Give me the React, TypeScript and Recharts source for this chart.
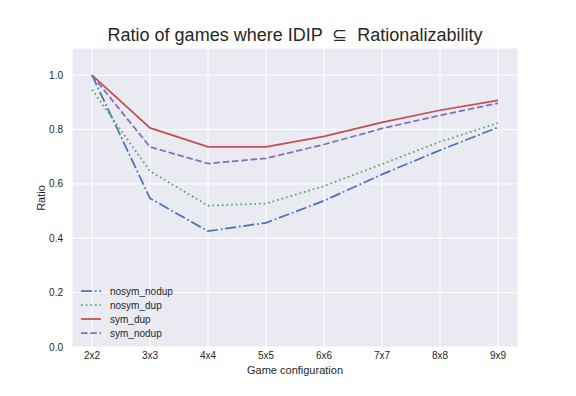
import { LineChart, Line, XAxis, YAxis, CartesianGrid } from 'recharts';

const configs = ['2x2', '3x3', '4x4', '5x5', '6x6', '7x7', '8x8', '9x9'];
const nosymNodup = [1.0, 0.547, 0.426, 0.457, 0.538, 0.635, 0.724, 0.808];
const nosymDup = [0.947, 0.647, 0.52, 0.528, 0.592, 0.673, 0.755, 0.824];
const symDup = [1.0, 0.806, 0.736, 0.736, 0.775, 0.826, 0.871, 0.907];
const symNodup = [1.0, 0.736, 0.675, 0.694, 0.745, 0.804, 0.852, 0.897];
const yTicks = [0, 0.2, 0.4, 0.6, 0.8, 1.0];

const series = [
    { key: 'nosym_nodup', color: '#4C72B0', dash: '11 2.8 1.75 2.8' },
    { key: 'nosym_dup', color: '#55A868', dash: '1.75 2.9' },
    { key: 'sym_dup', color: '#C44E52', dash: undefined },
    { key: 'sym_nodup', color: '#8172B2', dash: '6.5 2.8' },
];

const data = configs.map((c, i) => ({
    name: c,
    nosym_nodup: nosymNodup[i],
    nosym_dup: nosymDup[i],
    sym_dup: symDup[i],
    sym_nodup: symNodup[i],
}));

const font = '"Liberation Sans", Arial, sans-serif';
const textColor = '#262626';

function LegendBox() {
    return (
        <div style={{ position: 'absolute', left: 80, top: 284, fontFamily: font, fontSize: 10, color: textColor }}>
            {series.map((s) => (
                <div key={s.key} style={{ display: 'flex', alignItems: 'center', height: 14 }}>
                    <svg width={22} height={6} style={{ marginRight: 8 }}>
                        <line x1={1} y1={3} x2={21} y2={3} stroke={s.color} strokeWidth={1.75} strokeDasharray={s.dash} />
                    </svg>
                    <span>{s.key}</span>
                </div>
            ))}
        </div>
    );
}

export default function App() {
    return (
        <div style={{ position: 'absolute', left: 0, top: 0, width: 576, height: 396, background: '#fff', fontFamily: font }}>
            <div style={{ position: 'absolute', left: 72, width: 446, top: 24, textAlign: 'center', fontSize: 18, color: textColor, whiteSpace: 'pre' }}>
                {'Ratio of games where IDIP  \u2286  Rationalizability'}
            </div>
            <div style={{ position: 'absolute', left: 72, width: 446, top: 364, textAlign: 'center', fontSize: 11, color: textColor }}>
                Game configuration
            </div>
            <div style={{ position: 'absolute', left: 41, top: 198, fontSize: 11, color: textColor, transform: 'translate(-50%, -50%) rotate(-90deg)' }}>
                Ratio
            </div>
            <LineChart width={576} height={396} data={data} margin={{ top: 48, right: 58, bottom: 0, left: 0 }}>
                <CartesianGrid fill="#EAEAF2" stroke="#ffffff" strokeWidth={1} />
                <XAxis
                    dataKey="name"
                    height={49}
                    padding={{ left: 20, right: 20 }}
                    axisLine={false}
                    tickLine={false}
                    tickSize={0}
                    tickMargin={5}
                    interval={0}
                    tick={{ fontSize: 10, fill: textColor, fontFamily: font }}
                />
                <YAxis
                    width={72}
                    domain={[0, 1.1]}
                    ticks={yTicks}
                    axisLine={false}
                    tickLine={false}
                    tickSize={0}
                    tickMargin={9}
                    tickFormatter={(v: number) => v.toFixed(1)}
                    tick={{ fontSize: 10, fill: textColor, fontFamily: font }}
                />
                {series.map((s) => (
                    <Line
                        key={s.key}
                        type="linear"
                        dataKey={s.key}
                        stroke={s.color}
                        strokeWidth={1.75}
                        strokeDasharray={s.dash}
                        dot={false}
                        activeDot={false}
                        isAnimationActive={false}
                    />
                ))}
            </LineChart>
            <LegendBox />
        </div>
    );
}
